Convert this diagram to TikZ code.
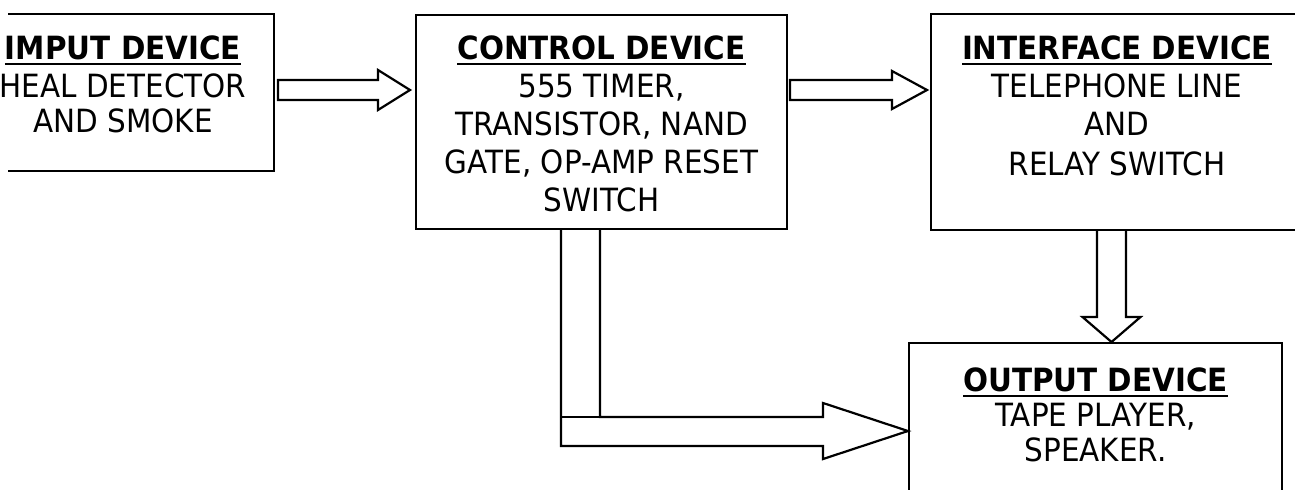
\documentclass[tikz,border=0pt]{standalone}
\usepackage{fontspec}
\setmainfont{DejaVu Sans}[FakeStretch=0.92]
\usetikzlibrary{calc, positioning}
\newcommand{\hdr}[1]{\setbox0\hbox{\bfseries #1}\rlap{\rule[-2.5pt]{\wd0}{1pt}}\box0}

\begin{document}
\begin{tikzpicture}[x=0.5pt, y=-0.5pt, line width=1.1pt, line join=miter,
  devbox/.style={anchor=north west, inner sep=0pt, outer sep=0pt},
  devtext/.style={anchor=north, align=center, inner sep=0pt, font=\fontsize{16}{19}\selectfont},
  blk/.style={line width=1.1pt}]
  \useasboundingbox (0,0) rectangle (1295,489);
  \clip (0,0) rectangle (1295,489);
  % Input device (left side cut off)
  \node[devbox, minimum width=133pt, minimum height=78.5pt] (inp) at (8,14) {};
  \draw (inp.north west) -- (inp.north east) -- (inp.south east) -- (inp.south west);
  \node[devtext] (inptxt) at ($(inp.north west)+(115,21)$) {\hdr{IMPUT DEVICE}\\ HEAL DETECTOR\\[-1.5pt] AND SMOKE};
  % Control device
  \node[devbox, draw, minimum width=185.5pt, minimum height=107pt] (ctl) at (416,15) {};
  \node[devtext, below=10pt of ctl.north] (ctltxt) {\hdr{CONTROL DEVICE}\\ 555 TIMER,\\ TRANSISTOR, NAND\\ GATE, OP-AMP RESET\\ SWITCH};
  % Interface device (right side off the page)
  \node[devbox, draw, minimum width=186pt, minimum height=108pt] (ifc) at (931,14) {};
  \node[devtext, below=10.5pt of ifc.north] (ifctxt) {\hdr{INTERFACE DEVICE}\\ TELEPHONE LINE\\ AND\\[1pt] RELAY SWITCH};
  % Output device (bottom off the page)
  \node[devbox, draw, minimum width=186.5pt, minimum height=80pt] (outp) at (909,343) {};
  \node[devtext, below=12pt of outp.north] (outptxt) {\hdr{OUTPUT DEVICE}\\[-1.5pt] TAPE PLAYER,\\[-1.5pt] SPEAKER.};
  % Input -> control
  \draw[blk] ($(inp.north east)+(4,66)$) -- ++(100,0) -- ++(0,-10) -- ($(ctl.north west)+(-6,75)$)
    -- ++(-32,20) -- ++(0,-10) -- ++(-100,0) -- cycle;
  % Control -> interface
  \draw[blk] ($(ctl.north east)+(3,65)$) -- ++(102,0) -- ++(0,-9) -- ($(ifc.north west)+(-4,76)$)
    -- ++(-35,19) -- ++(0,-9) -- ++(-102,0) -- cycle;
  % Interface -> output
  \draw[blk] ($(ifc.south west)+(166,0)$) -- ++(0,87) -- ++(-14.5,0) -- ($(outp.north west)+(202.5,-1)$)
    -- ++(29,-25) -- ++(-14.5,0) -- ++(0,-87);
  % Control -> output (elbow)
  \draw[blk] ($(ctl.south west)+(184,0)$) -- ++(0,188) -- ++(223,0) -- ++(0,-14) -- ($(outp.north west)+(-1,88)$)
    -- ++(-85,28) -- ++(0,-13) -- ++(-262,0) -- ++(0,-217);
  \draw[blk] ($(ctl.south west)+(145,188)$) -- ++(39,0);
\end{tikzpicture}
\end{document}
